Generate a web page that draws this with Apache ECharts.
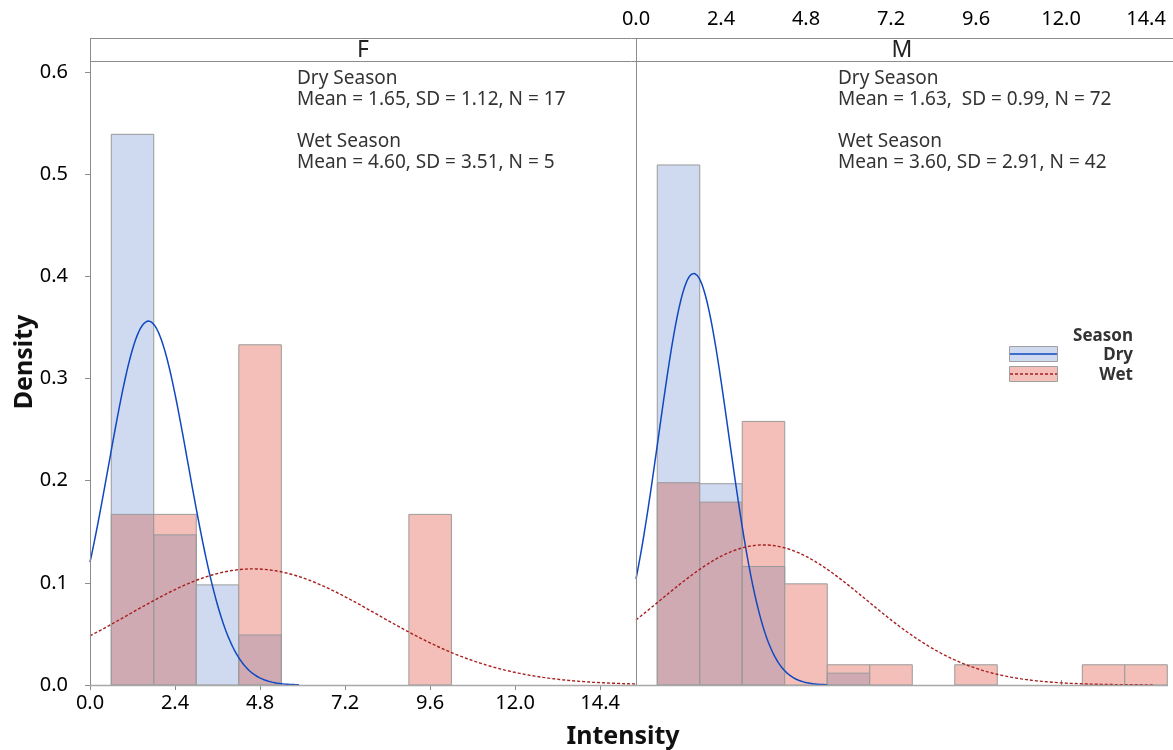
<!DOCTYPE html>
<html>
<head>
<meta charset="utf-8">
<script src="https://cdn.jsdelivr.net/npm/echarts@6/dist/echarts.min.js"></script>
<style>html,body{margin:0;padding:0;background:#fff;}#c{width:1173px;height:750px;}</style>
</head>
<body>
<div id="c"></div>
<script>
// ---- Data ----
const panels = ['F', 'M'];
const binStart = [0.6, 1.8, 3.0, 4.2, 5.4, 6.6, 7.8, 9.0, 10.2, 11.4, 12.6, 13.8];
const binWidth = 1.2;
const fDry = [0.539, 0.147, 0.098, 0.049, 0, 0, 0, 0, 0, 0, 0, 0];
const fWet = [0.167, 0.167, 0, 0.333, 0, 0, 0, 0.167, 0, 0, 0, 0];
const mDry = [0.509, 0.197, 0.116, 0, 0.0116, 0, 0, 0, 0, 0, 0, 0];
const mWet = [0.198, 0.179, 0.258, 0.099, 0.0198, 0.0198, 0, 0.0198, 0, 0, 0.0198, 0.0198];
// fitted normal parameters [mean, sd] as printed on the chart
const fDryFit = [1.65, 1.12];
const fWetFit = [4.60, 3.51];
const mDryFit = [1.63, 0.99];
const mWetFit = [3.60, 2.91];
const fText = ['Dry Season', 'Mean = 1.65, SD = 1.12, N = 17', 'Wet Season', 'Mean = 4.60, SD = 3.51, N = 5'];
const mText = ['Dry Season', 'Mean = 1.63,  SD = 0.99, N = 72', 'Wet Season', 'Mean = 3.60, SD = 2.91, N = 42'];

// ---- Styles ----
const FONT = 'Noto Sans';
const DRY_FILL = '#CFDAF0';
const WET_FILL = '#F4BFB9';
const BOTH_FILL = '#CFAAB2';
const BAR_STROKE = '#9a9a9a';
const DRY_LINE = '#1048C0';
const WET_LINE = '#A81E1E';
const FRAME = '#8c8c8c';

function bins(dry, wet) {
  return binStart.map((s, i) => [s, s + binWidth, dry[i], wet[i]]);
}
function fitCurve(p, xmax) {
  const out = [];
  const n = 200;
  for (let i = 0; i <= n; i++) {
    const x = xmax * i / n;
    const z = (x - p[0]) / p[1];
    out.push([x, Math.exp(-0.5 * z * z) / (p[1] * Math.sqrt(2 * Math.PI))]);
  }
  return out;
}
function barSeries(idx, dry, wet) {
  return {
    type: 'custom', xAxisIndex: idx, yAxisIndex: idx, z: 2,
    encode: { x: [0, 1], y: [2, 3] },
    data: bins(dry, wet),
    renderItem: function (params, api) {
      const x0 = api.value(0), x1 = api.value(1);
      const d = api.value(2), w = api.value(3);
      const children = [];
      function rect(h, fill, stroke) {
        const p0 = api.coord([x0, h]);
        const p1 = api.coord([x1, 0]);
        return {
          type: 'rect',
          shape: { x: p0[0], y: p0[1], width: p1[0] - p0[0], height: p1[1] - p0[1] },
          style: stroke ? { fill: 'none', stroke: BAR_STROKE, lineWidth: 1 } : { fill: fill, stroke: null }
        };
      }
      if (w > 0) children.push(rect(w, WET_FILL, false));
      if (d > 0) children.push(rect(d, DRY_FILL, false));
      if (d > 0 && w > 0) children.push(rect(Math.min(d, w), BOTH_FILL, false));
      if (w > 0) children.push(rect(w, null, true));
      if (d > 0) children.push(rect(d, null, true));
      return { type: 'group', children: children };
    }
  };
}
function lineSeries(idx, data, color, dashed) {
  return {
    type: 'line', xAxisIndex: idx, yAxisIndex: idx, z: 5,
    showSymbol: false, symbol: 'none', silent: true, clip: true,
    data: data,
    lineStyle: { color: color, width: dashed ? 1.4 : 1.5, type: dashed ? [3, 2] : 'solid' }
  };
}

const tickFmt = v => {
  const k = Math.round(v / 2.4);
  return Math.abs(v - k * 2.4) < 1e-6 ? v.toFixed(1) : '';
};
const yFmt = v => {
  const k = Math.round(v / 0.1);
  return Math.abs(v - k * 0.1) < 1e-6 ? v.toFixed(1) : '';
};

const chart = echarts.init(document.getElementById('c'), null, { renderer: 'canvas' });

function annot(x, lines) {
  const ys = [79, 100, 142, 163];
  return lines.map((t, i) => ({
    type: 'text', x: x, y: ys[i], z: 20,
    style: { text: t, fontFamily: FONT, fontSize: 19, fill: '#333', textVerticalAlign: 'middle', verticalAlign: 'middle' }
  }));
}
function label(x, y, t, size, weight, align, color) {
  return { type: 'text', x: x, y: y, z: 20,
    style: { text: t, fontFamily: FONT, fontSize: size, fontWeight: weight, fill: color || '#222',
      textAlign: align, align: align, textVerticalAlign: 'middle', verticalAlign: 'middle' } };
}

const graphic = [
  // frame & strip
  { type: 'line', z: 10, shape: { x1: 90, y1: 38.5, x2: 1173, y2: 38.5 }, style: { stroke: FRAME, lineWidth: 1 } },
  { type: 'line', z: 10, shape: { x1: 90, y1: 61.5, x2: 1173, y2: 61.5 }, style: { stroke: FRAME, lineWidth: 1 } },
  { type: 'line', z: 10, shape: { x1: 90.5, y1: 38, x2: 90.5, y2: 686 }, style: { stroke: FRAME, lineWidth: 1 } },
  { type: 'line', z: 10, shape: { x1: 636.5, y1: 38, x2: 636.5, y2: 686 }, style: { stroke: FRAME, lineWidth: 1 } },
  { type: 'line', z: 10, shape: { x1: 90, y1: 685.5, x2: 1168, y2: 685.5 }, style: { stroke: '#a8a8a8', lineWidth: 1.5 } },
  label(363, 50, panels[0], 23, 'normal', 'center'),
  label(902, 50, panels[1], 23, 'normal', 'center'),
  // axis titles
  Object.assign(label(25, 362, 'Density', 25, 'bold', 'center', '#111'), { rotation: Math.PI / 2 }),
  label(623, 737, 'Intensity', 25, 'bold', 'center', '#111'),
  // legend
  label(1133, 336, 'Season', 17, 'bold', 'right', '#333'),
  label(1133, 355, 'Dry', 17, 'bold', 'right', '#333'),
  label(1133, 375, 'Wet', 17, 'bold', 'right', '#333'),
  { type: 'rect', z: 20, shape: { x: 1009.5, y: 346.5, width: 48, height: 15 }, style: { fill: DRY_FILL, stroke: '#a0a0a0', lineWidth: 1 } },
  { type: 'line', z: 21, shape: { x1: 1010, y1: 354, x2: 1057, y2: 354 }, style: { stroke: DRY_LINE, lineWidth: 1.5 } },
  { type: 'rect', z: 20, shape: { x: 1009.5, y: 366.5, width: 48, height: 15 }, style: { fill: WET_FILL, stroke: '#a0a0a0', lineWidth: 1 } },
  { type: 'line', z: 21, shape: { x1: 1010, y1: 374, x2: 1057, y2: 374 }, style: { stroke: WET_LINE, lineWidth: 1.3, lineDash: [3, 2] } }
].concat(annot(297, fText)).concat(annot(838, mText));

const axisLabelStyle = { fontFamily: FONT, fontSize: 20, color: '#000' };

chart.setOption({
  animation: false,
  backgroundColor: '#fff',
  grid: [
    { left: 90, top: 72, width: 546, height: 613, containLabel: false },
    { left: 636, top: 72, width: 532, height: 613, containLabel: false }
  ],
  xAxis: [
    { type: 'value', gridIndex: 0, min: 0, max: 15.41, interval: 2.4, position: 'bottom',
      axisLine: { show: false }, splitLine: { show: false },
      axisTick: { show: true, length: 5, lineStyle: { color: FRAME } },
      axisLabel: Object.assign({ margin: 8, formatter: tickFmt, showMaxLabel: false }, axisLabelStyle) },
    { type: 'value', gridIndex: 1, min: 0, max: 15.02, interval: 2.4, position: 'top', offset: 34,
      axisLine: { show: false }, splitLine: { show: false },
      axisTick: { show: true, length: 5, lineStyle: { color: FRAME } },
      axisLabel: Object.assign({ margin: 9, formatter: tickFmt, showMaxLabel: false }, axisLabelStyle) }
  ],
  yAxis: [
    { type: 'value', gridIndex: 0, min: 0, max: 0.6, interval: 0.1,
      axisLine: { show: false }, splitLine: { show: false },
      axisTick: { show: true, length: 5, lineStyle: { color: FRAME } },
      axisLabel: Object.assign({ margin: 22, formatter: yFmt }, axisLabelStyle) },
    { type: 'value', gridIndex: 1, min: 0, max: 0.6, interval: 0.1, show: false }
  ],
  series: [
    barSeries(0, fDry, fWet),
    lineSeries(0, fitCurve(fDryFit, 5.9), DRY_LINE, false),
    lineSeries(0, fitCurve(fWetFit, 15.41), WET_LINE, true),
    barSeries(1, mDry, mWet),
    lineSeries(1, fitCurve(mDryFit, 5.4), DRY_LINE, false),
    lineSeries(1, fitCurve(mWetFit, 14.6), WET_LINE, true)
  ],
  graphic: graphic
});
</script>
</body>
</html>
